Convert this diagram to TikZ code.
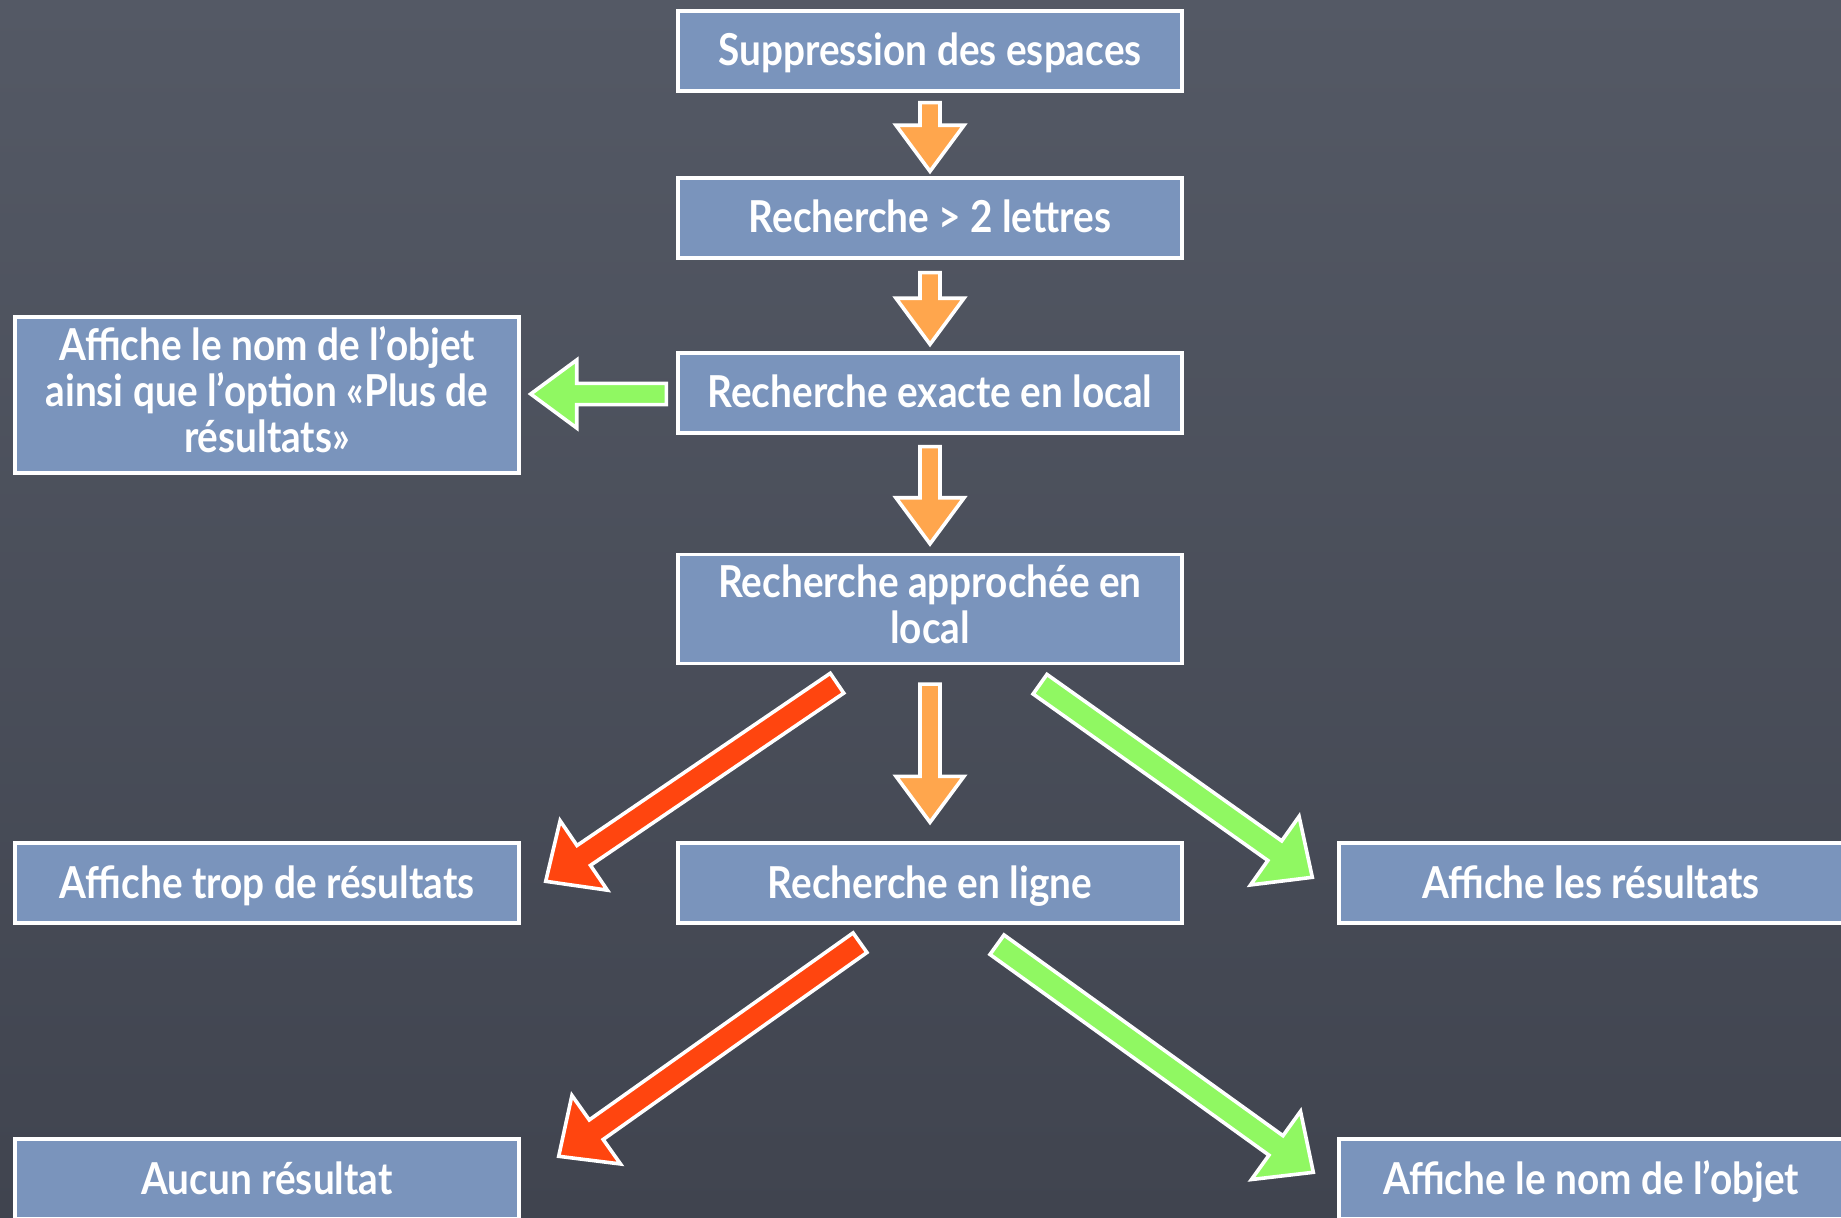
\documentclass[tikz,border=0pt]{standalone}
\usepackage{fontspec}
\setmainfont{Lato}[FakeStretch=0.88]
\usetikzlibrary{calc}
\definecolor{chalkTop}{RGB}{84,89,101}
\definecolor{chalkBottom}{RGB}{64,68,79}
\definecolor{boxBlue}{RGB}{122,148,188}
\definecolor{arrOrange}{RGB}{255,166,77}
\definecolor{arrRed}{RGB}{255,69,15}
\definecolor{arrGreen}{RGB}{144,248,98}
\newcommand{\boxStrut}{\vrule height 20pt depth 5pt width 0pt}
\tikzstyle{box} = [draw=white, line width=1.7pt, fill=boxBlue, text=white, align=center,
  font=\bfseries\fontsize{22}{23}\selectfont, execute at begin node=\boxStrut,
  minimum width=252pt, minimum height=40pt, inner sep=0pt]
\tikzstyle{arrowline} = [draw=white, line width=1.8pt, line join=miter]
% colour, from, to, half shaft, half head
\newcommand{\blockArrow}[5]{%
  \coordinate (arrowBase) at ($(#3)!23pt!(#2)$);
  \draw[arrowline, fill=#1] ($(#2)!#4!90:(#3)$) -- ($(arrowBase)!#4!-90:(#2)$)
    -- ($(arrowBase)!#5!-90:(#2)$) -- (#3) -- ($(arrowBase)!#5!90:(#2)$)
    -- ($(arrowBase)!#4!90:(#2)$) -- ($(#2)!#4!-90:(#3)$) -- cycle;
}

\begin{document}
\begin{tikzpicture}[x=0.5pt,y=-0.5pt]
	\useasboundingbox (0,0) rectangle (1841,1218);
	\shade[top color=chalkTop, bottom color=chalkBottom] (0,0) rectangle (1841,1218); % board
	\node[box] (supprEspaces) at (930,51) {Suppression des espaces};
	\node[box] (rechLettres) at (930,218) {Recherche > 2 lettres};
	\node[box] (rechExacte) at (930,393) {Recherche exacte en local};
	\node[box,minimum height=78pt] (plusResultats) at (267,395) {Affiche le nom de l’objet\\ainsi que l’option «Plus de\\résultats»};
	\node[box,minimum height=54.5pt] (rechApprox) at (930,609) {Recherche approchée en\\local};
	\node[box] (tropResultats) at (267,883) {Affiche trop de résultats};
	\node[box] (rechLigne) at (930,883) {Recherche en ligne};
	\node[box] (lesResultats) at (1591,883) {Affiche les résultats};
	\node[box] (aucunResultat) at (267,1179) {Aucun résultat};
	\node[box] (nomObjet) at (1591,1179) {Affiche le nom de l’objet};
	% arrow ends
	\coordinate (a1From) at ($(supprEspaces.south)+(0,10)$);
	\coordinate (a1To) at ($(rechLettres.north)+(0,-5)$);
	\coordinate (a2From) at ($(rechLettres.south)+(0,13)$);
	\coordinate (a2To) at ($(rechExacte.north)+(0,-7)$);
	\coordinate (a3From) at ($(rechExacte.south)+(0,12)$);
	\coordinate (a3To) at ($(rechApprox.north)+(0,-9)$);
	\coordinate (a4From) at ($(rechApprox.south)+(0,19)$);
	\coordinate (a4To) at ($(rechLigne.north)+(0,-19)$);
	\coordinate (leftFrom) at ($(rechExacte.west)+(-10,1)$);
	\coordinate (leftTo) at ($(plusResultats.east)+(10,-1)$);
	\coordinate (red1From) at ($(rechApprox.south)+(-93,18)$);
	\coordinate (red1To) at ($(tropResultats.north east)+(25,40)$);
	\coordinate (green1From) at ($(rechApprox.south)+(110,19)$);
	\coordinate (green1To) at ($(lesResultats.north west)+(-25,36)$);
	\coordinate (red2From) at ($(rechLigne.south)+(-70,18)$);
	\coordinate (red2To) at ($(aucunResultat.north east)+(38,19)$);
	\coordinate (green2From) at ($(rechLigne.south)+(67,20)$);
	\coordinate (green2To) at ($(nomObjet.north west)+(-24,35)$);
	\blockArrow{arrOrange}{a1From}{a1To}{5pt}{17pt}
	\blockArrow{arrOrange}{a2From}{a2To}{5pt}{17pt}
	\blockArrow{arrOrange}{a3From}{a3To}{5pt}{17pt}
	\blockArrow{arrOrange}{a4From}{a4To}{5pt}{17pt}
	\blockArrow{arrGreen}{leftFrom}{leftTo}{5.3pt}{17pt}
	\blockArrow{arrRed}{red1From}{red1To}{6pt}{21pt}
	\blockArrow{arrGreen}{green1From}{green1To}{6pt}{21pt}
	\blockArrow{arrRed}{red2From}{red2To}{6pt}{21pt}
	\blockArrow{arrGreen}{green2From}{green2To}{6pt}{21pt}
\end{tikzpicture}
\end{document}
